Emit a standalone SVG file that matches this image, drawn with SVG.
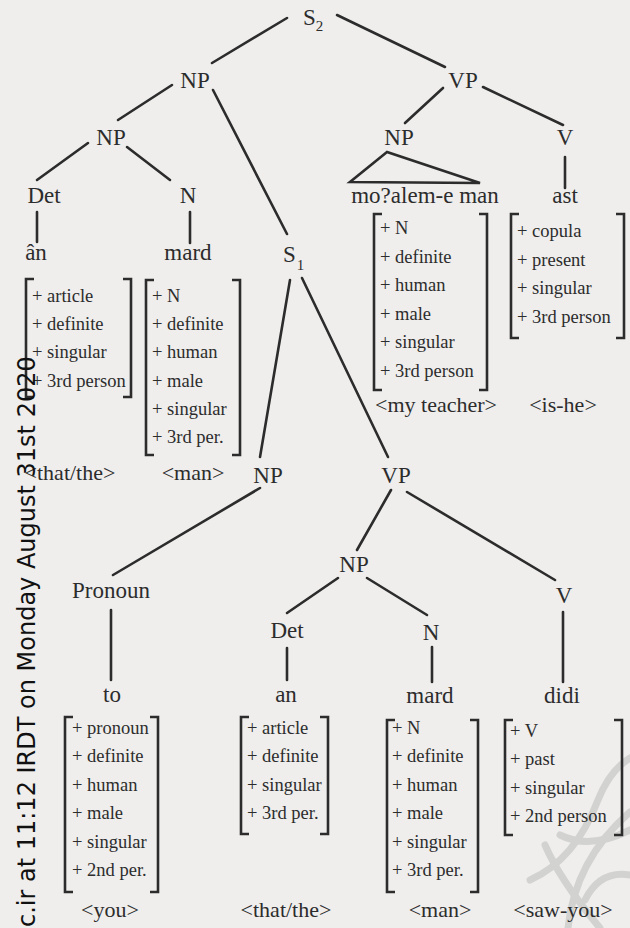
<svg xmlns="http://www.w3.org/2000/svg" width="630" height="928" viewBox="0 0 630 928">
<style>
text{font-family:"Liberation Serif","Times New Roman",serif;fill:#2c2c2c}
.l{font-size:23px;text-anchor:middle}
.g{font-size:22px;text-anchor:middle}
.f{font-size:18.5px}
.br{fill:none;stroke:#2c2c2c;stroke-width:2.6}
.orn{fill:none;stroke:#d2d2d0;stroke-width:7;stroke-linecap:round}
#edges line,#edges path{stroke:#2c2c2c;stroke-width:2.6;fill:none;stroke-linecap:round}
.wm{font-family:"DejaVu Sans",sans-serif;font-size:24px;fill:#111}
</style>
<rect width="630" height="928" fill="#efeeec"/>

<g id="ornament">
<path class="orn" d="M568 928 Q575 860 630 812"/>
<path class="orn" d="M530 880 Q575 860 598 800 Q610 770 630 758"/>
<path class="orn" d="M560 835 Q590 850 630 830"/>
<path class="orn" d="M585 900 Q600 870 630 875"/>
<path class="orn" d="M545 845 Q560 880 600 928"/>
</g>

<g id="edges">
<line x1="287" y1="18" x2="212" y2="63"/>
<line x1="337" y1="15" x2="445" y2="67"/>
<line x1="172" y1="85" x2="118" y2="120"/>
<line x1="213" y1="90" x2="287" y2="234"/>
<line x1="88" y1="143" x2="37" y2="180"/>
<line x1="127" y1="147" x2="170" y2="180"/>
<line x1="443" y1="88" x2="405" y2="123"/>
<line x1="483" y1="87" x2="563" y2="125"/>
<path d="M387 152 L350 182 L480 183 Z"/>
<line x1="565" y1="157" x2="565" y2="188"/>
<line x1="37" y1="212" x2="37" y2="242"/>
<line x1="190" y1="212" x2="190" y2="243"/>
<line x1="290" y1="280" x2="260" y2="457"/>
<line x1="302" y1="278" x2="388" y2="457"/>
<line x1="260" y1="488" x2="113" y2="575"/>
<line x1="111" y1="610" x2="111" y2="680"/>
<line x1="391" y1="490" x2="357" y2="550"/>
<line x1="407" y1="492" x2="555" y2="580"/>
<line x1="338" y1="578" x2="287" y2="613"/>
<line x1="367" y1="578" x2="427" y2="615"/>
<line x1="287" y1="648" x2="287" y2="680"/>
<line x1="432" y1="647" x2="432" y2="682"/>
<line x1="563" y1="612" x2="563" y2="682"/>
</g>

<g id="S2"><text x="303" y="25" style="font-size:23px">S<tspan style="font-size:15px" dy="6">2</tspan></text></g>
<g id="NP1"><text class="l" x="195" y="88">NP</text></g>
<g id="VP1"><text class="l" x="463" y="88">VP</text></g>
<g id="NP2"><text class="l" x="111" y="145">NP</text></g>
<g id="NP3"><text class="l" x="399" y="145">NP</text></g>
<g id="V1"><text class="l" x="565" y="145">V</text></g>
<g id="Det1"><text class="l" x="44" y="203">Det</text></g>
<g id="N1"><text class="l" x="188" y="203">N</text></g>
<g id="S1"><text x="283" y="262" style="font-size:23px">S<tspan style="font-size:15px" dx="1" dy="8">1</tspan></text></g>
<g id="NP4"><text class="l" x="268" y="483">NP</text></g>
<g id="VP2"><text class="l" x="396" y="483">VP</text></g>
<g id="Pronoun"><text class="l" x="111" y="598">Pronoun</text></g>
<g id="NP5"><text class="l" x="354" y="572">NP</text></g>
<g id="Det2"><text class="l" x="287" y="638">Det</text></g>
<g id="N2"><text class="l" x="431" y="640">N</text></g>
<g id="V2"><text class="l" x="564" y="603">V</text></g>

<g id="leaf-an1">
<text class="l" x="36" y="260">ân</text>
<path class="br" d="M34 279 H26 V397 H34 M123 279 H131 V397 H123"/>
<text class="f" x="32" y="302">+ article</text>
<text class="f" x="32" y="330">+ definite</text>
<text class="f" x="32" y="358">+ singular</text>
<text class="f" x="32" y="387">+ 3rd person</text>
<text class="g" x="70" y="480">&lt;that/the&gt;</text>
</g>

<g id="leaf-mard1">
<text class="l" x="188" y="260">mard</text>
<path class="br" d="M154 280 H146 V455 H154 M232 280 H240 V455 H232"/>
<text class="f" x="152" y="302">+ N</text>
<text class="f" x="152" y="330">+ definite</text>
<text class="f" x="152" y="358">+ human</text>
<text class="f" x="152" y="387">+ male</text>
<text class="f" x="152" y="415">+ singular</text>
<text class="f" x="152" y="443">+ 3rd per.</text>
<text class="g" x="193" y="480">&lt;man&gt;</text>
</g>

<g id="leaf-moalem">
<text class="l" x="425" y="203">mo?alem-e man</text>
<path class="br" d="M382 214 H374 V390 H382 M479 214 H487 V390 H479"/>
<text class="f" x="380" y="234">+ N</text>
<text class="f" x="380" y="263">+ definite</text>
<text class="f" x="380" y="291">+ human</text>
<text class="f" x="380" y="320">+ male</text>
<text class="f" x="380" y="348">+ singular</text>
<text class="f" x="380" y="377">+ 3rd person</text>
<text class="g" x="436" y="412">&lt;my teacher&gt;</text>
</g>

<g id="leaf-ast">
<text class="l" x="565" y="203">ast</text>
<path class="br" d="M519 214 H511 V338 H519 M616 214 H624 V338 H616"/>
<text class="f" x="517" y="237">+ copula</text>
<text class="f" x="517" y="266">+ present</text>
<text class="f" x="517" y="294">+ singular</text>
<text class="f" x="517" y="323">+ 3rd person</text>
<text class="g" x="563" y="412">&lt;is-he&gt;</text>
</g>

<g id="leaf-to">
<text class="l" x="112" y="702">to</text>
<path class="br" d="M73 717 H65 V892 H73 M150 717 H158 V892 H150"/>
<text class="f" x="72" y="734">+ pronoun</text>
<text class="f" x="72" y="762">+ definite</text>
<text class="f" x="72" y="791">+ human</text>
<text class="f" x="72" y="819">+ male</text>
<text class="f" x="72" y="848">+ singular</text>
<text class="f" x="72" y="876">+ 2nd per.</text>
<text class="g" x="110" y="917">&lt;you&gt;</text>
</g>

<g id="leaf-an2">
<text class="l" x="286" y="702">an</text>
<path class="br" d="M249 717 H241 V834 H249 M320 717 H328 V834 H320"/>
<text class="f" x="247" y="734">+ article</text>
<text class="f" x="247" y="762">+ definite</text>
<text class="f" x="247" y="791">+ singular</text>
<text class="f" x="247" y="819">+ 3rd per.</text>
<text class="g" x="286" y="917">&lt;that/the&gt;</text>
</g>

<g id="leaf-mard2">
<text class="l" x="430" y="703">mard</text>
<path class="br" d="M395 720 H387 V892 H395 M470 720 H478 V892 H470"/>
<text class="f" x="392" y="734">+ N</text>
<text class="f" x="392" y="762">+ definite</text>
<text class="f" x="392" y="791">+ human</text>
<text class="f" x="392" y="819">+ male</text>
<text class="f" x="392" y="848">+ singular</text>
<text class="f" x="392" y="876">+ 3rd per.</text>
<text class="g" x="440" y="917">&lt;man&gt;</text>
</g>

<g id="leaf-didi">
<text class="l" x="562" y="703">didi</text>
<path class="br" d="M513 720 H505 V835 H513 M614 720 H622 V835 H614"/>
<text class="f" x="510" y="737">+ V</text>
<text class="f" x="510" y="765">+ past</text>
<text class="f" x="510" y="794">+ singular</text>
<text class="f" x="510" y="822">+ 2nd person</text>
<text class="g" x="563" y="917">&lt;saw-you&gt;</text>
</g>

<text class="wm" transform="translate(35,927) rotate(-90)">c.ir at 11:12 IRDT on Monday August 31st 2020</text>
</svg>
